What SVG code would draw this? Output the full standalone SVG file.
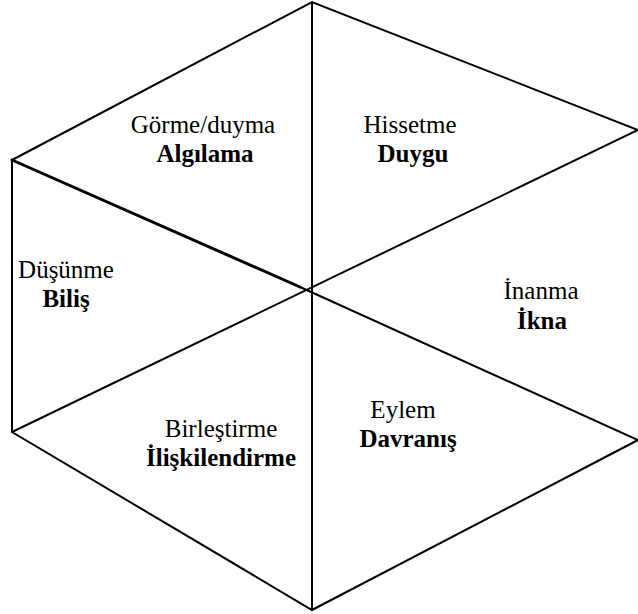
<svg xmlns="http://www.w3.org/2000/svg" width="638" height="614" viewBox="0 0 638 614">
  <style>
    .edge { stroke: #000; stroke-width: 2; fill: none; stroke-linecap: round; }
    .heavy { stroke: #000; stroke-width: 3; fill: none; stroke-linecap: round; }
    .t { font-family: "Liberation Serif", "Times New Roman", serif; font-size: 25px; fill: #000; text-anchor: middle; }
    .b { font-weight: bold; }
  </style>
  <rect width="638" height="614" fill="#fff"/>
  <g id="connectors">
    <!-- outer hexagon -->
    <polyline class="edge" points="12,160 312,2 638,130"/>
    <polyline class="edge" points="638,440 312,610 12,432 12,160"/>
    <!-- spokes through the centre -->
    <line class="edge" x1="312" y1="2" x2="312" y2="610"/>
    <line class="heavy" x1="12" y1="160" x2="300" y2="287"/>
    <line class="edge" x1="300" y1="287" x2="638" y2="440"/>
    <line class="edge" x1="12" y1="432" x2="638" y2="130"/>
  </g>
  <g id="algilama">
    <text class="t" x="203" y="133">Görme/duyma</text>
    <text class="t b" x="205" y="162">Algılama</text>
  </g>
  <g id="duygu">
    <text class="t" x="410" y="133">Hissetme</text>
    <text class="t b" x="413" y="162">Duygu</text>
  </g>
  <g id="bilis">
    <text class="t" x="66" y="278">Düşünme</text>
    <text class="t b" x="66" y="307">Biliş</text>
  </g>
  <g id="ikna">
    <text class="t" x="541" y="299">İnanma</text>
    <text class="t b" x="542" y="329">İkna</text>
  </g>
  <g id="iliskilendirme">
    <text class="t" x="221" y="437">Birleştirme</text>
    <text class="t b" x="221" y="466">İlişkilendirme</text>
  </g>
  <g id="davranis">
    <text class="t" x="403" y="418">Eylem</text>
    <text class="t b" x="408" y="447">Davranış</text>
  </g>
</svg>
